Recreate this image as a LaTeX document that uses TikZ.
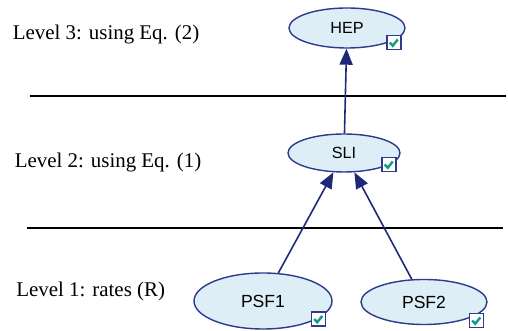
\documentclass[tikz,border=0pt]{standalone}
\usepackage{fontspec}
\setmainfont{Liberation Serif}
\setsansfont{Liberation Sans}
\usetikzlibrary{arrows.meta,shapes.geometric}
\definecolor{rim}{HTML}{2E3A8C}
\definecolor{arrowblue}{HTML}{1D2878}
\definecolor{shell}{HTML}{DDEEF6}
\definecolor{tick}{HTML}{17998A}

\begin{document}
\begin{tikzpicture}[x=1cm,y=1cm,
  lvl/.style={anchor=base west,inner sep=0pt,font=\fontsize{11.9}{14}\selectfont},
  var/.style={ellipse,draw=rim,fill=shell,line width=.8pt,inner sep=0pt,font=\sffamily\fontsize{9.2}{10}\selectfont},
  chk/.style={draw=rim,fill=white,line width=.8pt,minimum size=.28cm,inner sep=0pt,
    path picture={\draw[tick,line width=1.4pt] ([shift={(-.085,.0)}]path picture bounding box.center)
      -- ++(.06,-.065) -- ++(.1,.125);}},
  link/.style={-{Triangle[length=3.2mm,width=2.6mm]},line width=.9pt,draw=arrowblue,fill=arrowblue},
  sep/.style={line width=.9pt,draw=black}]
\path[use as bounding box] (0,0) rectangle (10.16,6.62);
% level captions and the two dividing rules
\node[lvl] (lev3) at (.25,5.82) {Level 3: using Eq. (2)};
\node[lvl] (lev2) at (.29,3.26) {Level 2: using Eq. (1)};
\node[lvl] (lev1) at (.32,.68) {Level 1: rates (R)};
\draw[sep] (.60,4.70) -- (10.12,4.70);
\draw[sep] (.54,2.06) -- (10.06,2.06);

% network nodes, each with its small check box
\node[var,minimum width=2.32cm,minimum height=.80cm] (hep) at (6.94,6.06) {HEP};
\node[var,minimum width=2.24cm,minimum height=.76cm] (sli) at (6.88,3.56) {SLI};
\node[var,minimum width=2.76cm,minimum height=1.12cm,font=\sffamily\fontsize{10}{11}\selectfont] (psf1) at (5.26,.60) {PSF1};
\node[var,minimum width=2.52cm,minimum height=.90cm,font=\sffamily\fontsize{10}{11}\selectfont] (psf2) at (8.48,.58) {PSF2};
\node[chk] (hepchk) at ([shift={(.94,-.29)}]hep.center) {};
\node[chk] (slichk) at ([shift={(.90,-.23)}]sli.center) {};
\node[chk] (psf1chk) at ([shift={(1.11,-.36)}]psf1.center) {};
\node[chk] (psf2chk) at ([shift={(1.05,-.37)}]psf2.center) {};

\draw[link] (sli) -- (hep);
\draw[link] (psf1) -- (sli);
\draw[link] (psf2) -- (sli);
\end{tikzpicture}
\end{document}
